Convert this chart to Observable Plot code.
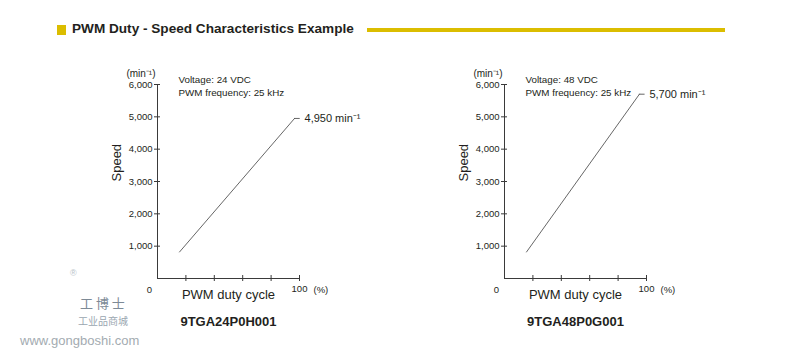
<!DOCTYPE html>
<html>
<head>
<meta charset="utf-8">
<script src="https://cdn.jsdelivr.net/npm/d3@7"></script>
<script src="https://cdn.jsdelivr.net/npm/@observablehq/plot@0.6"></script>
<style>
  html, body { margin: 0; padding: 0; background: #fff; }
  body { width: 800px; height: 361px; position: relative; overflow: hidden; font-family: Arial, "Liberation Sans", Helvetica, sans-serif; color: #231f20; }
  .title-sq { position: absolute; left: 57px; top: 25px; width: 9px; height: 9.5px; background: #dbbd00; }
  .title { position: absolute; left: 72px; top: 20px; font-size: 13.6px; font-weight: bold; letter-spacing: 0px; white-space: nowrap; line-height: 18px; }
  .title-bar { position: absolute; left: 367px; top: 27.5px; width: 358px; height: 4px; background: #dbbd00; }
  .chart { position: absolute; top: 55px; }
  .wm { position: absolute; color: #b8c2c8; white-space: nowrap; font-family: Arial, "Liberation Sans", "Noto Sans CJK SC", sans-serif; }
</style>
</head>
<body>
<div class="title-sq"></div>
<div class="title">PWM Duty - Speed Characteristics Example</div>
<div class="title-bar"></div>
<div id="c1" class="chart" style="left:100px"></div>
<div id="c2" class="chart" style="left:447px"></div>
<div class="wm" style="left:70px;top:268px;font-size:9px;">®</div>
<div class="wm" style="left:80px;top:293px;font-size:13px;font-family:'Noto Sans CJK SC';color:#7d8a96;">工 博 士</div>
<div class="wm" style="left:78px;top:313px;font-size:10px;font-family:'Noto Sans CJK SC';color:#9aa6b0;">工业品商城</div>
<div class="wm" style="left:20px;top:333px;font-size:13px;color:#a3abb1;">www.gongboshi.com</div>
<script>
// ---- data ----
const yTicks = [1000, 2000, 3000, 4000, 5000, 6000];
const xTicks = [20, 40, 60, 80, 100];
const models = ["9TGA24P0H001", "9TGA48P0G001"];
const voltages = ["Voltage: 24 VDC", "Voltage: 48 VDC"];
const pwmFreq = "PWM frequency: 25 kHz";
const duty24 = [15.5, 96.5];
const speed24 = [820, 4950];
const duty48 = [15.5, 95];
const speed48 = [820, 5700];
const endLabels = ["4,950 min⁻¹", "5,700 min⁻¹"];

const ink = "#231f20";
const axisInk = "#3a3a3a";

function chart(duty, speed, voltage, endLabel, model) {
  const pts = duty.map((d, i) => ({duty: d, speed: speed[i]}));
  const end = pts[pts.length - 1];
  return Plot.plot({
    width: 270,
    height: 285,
    marginLeft: 57,
    marginRight: 71,
    marginTop: 29,
    marginBottom: 62,
    style: {fontFamily: "Arial, 'Liberation Sans', sans-serif", color: ink, background: "transparent", overflow: "visible"},
    x: {domain: [0, 100], axis: null},
    y: {domain: [0, 6000], axis: null},
    marks: [
      Plot.ruleX([0], {y1: 0, y2: 6000, stroke: axisInk, strokeWidth: 1}),
      Plot.ruleY([0], {x1: 0, x2: 100, stroke: axisInk, strokeWidth: 1}),
      Plot.axisY(yTicks, {anchor: "left", tickSize: 6, dx: 3, tickPadding: 2, tickFormat: d3.format(","), label: null, fontSize: 9.5, stroke: axisInk, fill: ink}),
      Plot.axisX(xTicks, {anchor: "bottom", tickSize: 6, dy: -3, tickPadding: 3.5, tickFormat: d => d === 100 ? "100" : "", label: null, fontSize: 9.5, stroke: axisInk, fill: ink}),
      Plot.text(["0"], {x: 0, y: 0, text: d => d, dx: -8, dy: 11, fontSize: 9.5, fill: ink}),
      Plot.text(["(%)"], {x: 100, y: 0, text: d => d, dx: 14, dy: 11, textAnchor: "start", fontSize: 9.5, fill: ink}),
      Plot.text(["(min⁻¹)"], {frameAnchor: "top-left", text: d => d, dx: -2, dy: -15, textAnchor: "end", fontSize: 10, fill: ink}),
      Plot.text(["Speed"], {frameAnchor: "left", text: d => d, rotate: -90, dx: -41, fontSize: 13, fill: ink}),
      Plot.text([voltage], {frameAnchor: "top-left", text: d => d, dx: 21, dy: -8, textAnchor: "start", fontSize: 9.8, fill: ink}),
      Plot.text([pwmFreq], {frameAnchor: "top-left", text: d => d, dx: 21, dy: 5, textAnchor: "start", fontSize: 9.8, fill: ink}),
      Plot.line(pts, {x: "duty", y: "speed", stroke: "#555", strokeWidth: 0.9}),
      Plot.ruleY([end], {y: "speed", x1: "duty", x2: d => d.duty + 4, stroke: "#555", strokeWidth: 0.9}),
      Plot.text([end], {x: "duty", y: "speed", text: () => endLabel, dx: 10, textAnchor: "start", fontSize: 11, fill: ink}),
      Plot.text(["PWM duty cycle"], {frameAnchor: "bottom", text: d => d, dy: 20, fontSize: 13, fill: ink}),
      Plot.text([model], {frameAnchor: "bottom", text: d => d, dy: 47, fontSize: 13, fontWeight: "bold", fill: ink})
    ]
  });
}

document.getElementById("c1").append(chart(duty24, speed24, voltages[0], endLabels[0], models[0]));
document.getElementById("c2").append(chart(duty48, speed48, voltages[1], endLabels[1], models[1]));
</script>
</body>
</html>
